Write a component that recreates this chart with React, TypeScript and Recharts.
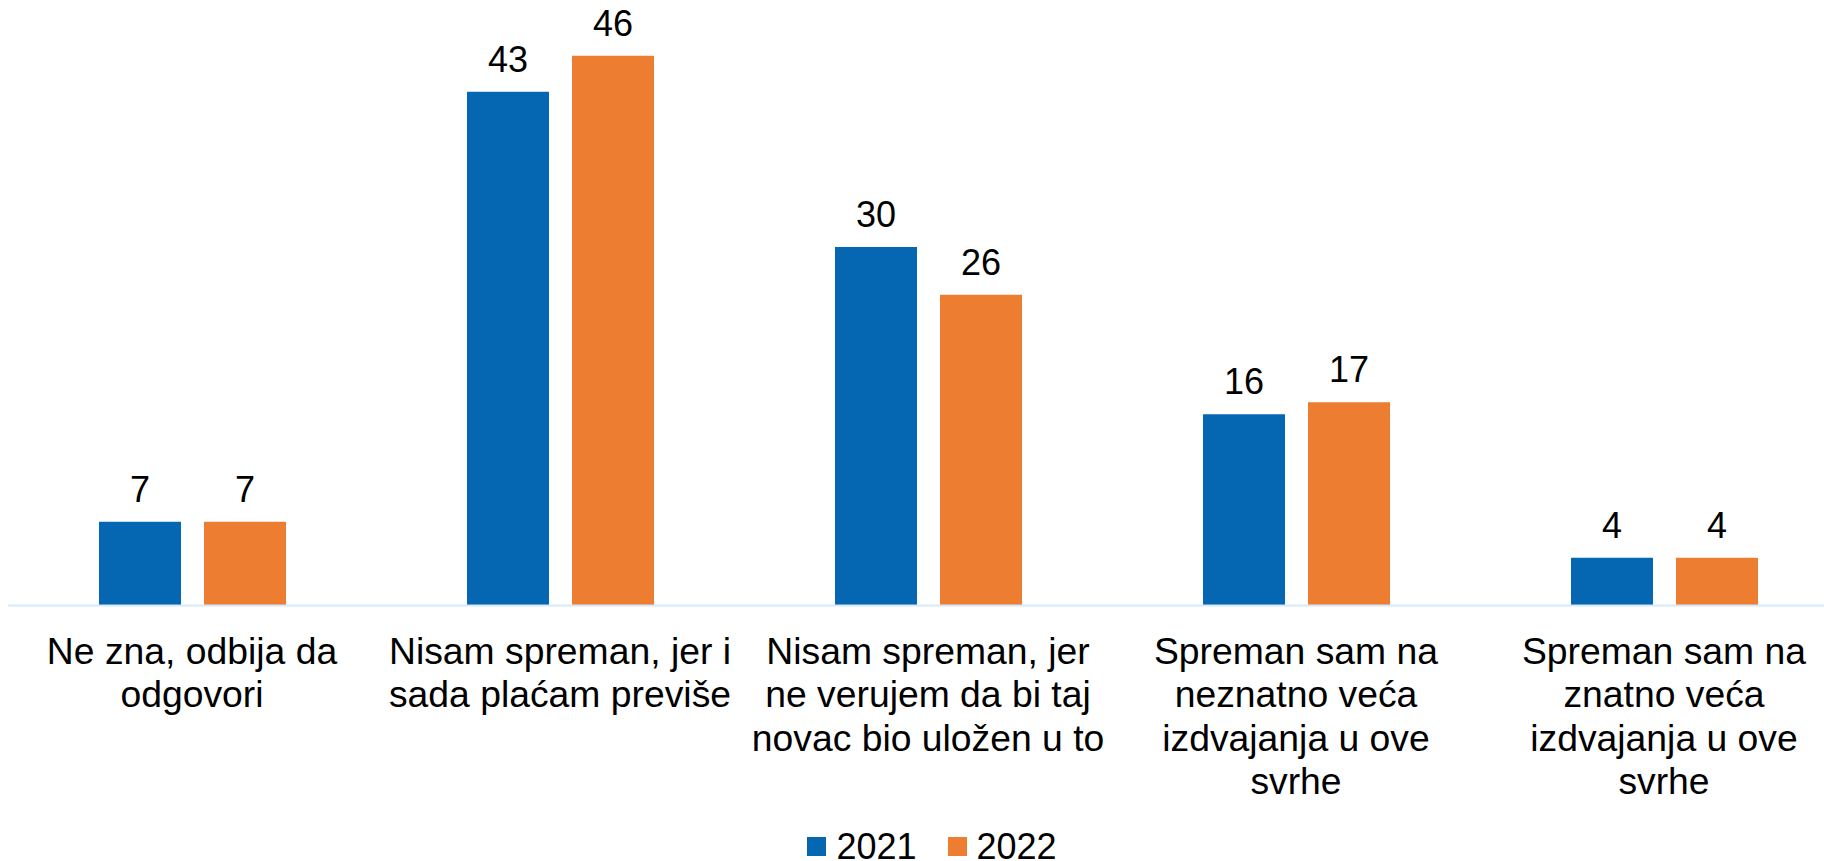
import React from "react";
import { BarChart, Bar, XAxis, YAxis, Legend, LabelList } from "recharts";

const categories = [
  "Ne zna, odbija da odgovori",
  "Nisam spreman, jer i sada plaćam previše",
  "Nisam spreman, jer ne verujem da bi taj novac bio uložen u to",
  "Spreman sam na neznatno veća izdvajanja u ove svrhe",
  "Spreman sam na znatno veća izdvajanja u ove svrhe",
];
const tickLines: string[][] = [
  ["Ne zna, odbija da", "odgovori"],
  ["Nisam spreman, jer i", "sada plaćam previše"],
  ["Nisam spreman, jer", "ne verujem da bi taj", "novac bio uložen u to"],
  ["Spreman sam na", "neznatno veća", "izdvajanja u ove", "svrhe"],
  ["Spreman sam na", "znatno veća", "izdvajanja u ove", "svrhe"],
];
const values2021 = [7, 43, 30, 16, 4];
const values2022 = [7, 46, 26, 17, 4];
const seriesNames = ["2021", "2022"];
const colors = ["#0567B1", "#ED7D31"];

const data = categories.map((c, i) => ({
  name: c,
  idx: i,
  v2021: values2021[i],
  v2022: values2022[i],
}));

const FONT = "Arial, 'Liberation Sans', sans-serif";

const CatTick = (props: any) => {
  const { x, y, payload } = props;
  const lines = tickLines[payload.index] || [String(payload.value)];
  return (
    <text
      x={x}
      y={y}
      textAnchor="middle"
      fontFamily={FONT}
      fontSize={37.3}
      fill="#000"
    >
      {lines.map((l, i) => (
        <tspan key={i} x={x} y={y + 58 + i * 43.5}>
          {l}
        </tspan>
      ))}
    </text>
  );
};

const LegendContent = () => (
  <div
    style={{
      display: "flex",
      justifyContent: "center",
      alignItems: "center",
      height: 29,
      lineHeight: "29px",
      fontFamily: FONT,
      fontSize: 36,
      color: "#000",
      paddingLeft: 8,
    }}
  >
    {seriesNames.map((n, i) => (
      <div
        key={n}
        style={{ display: "flex", alignItems: "center", marginRight: i === 0 ? 31 : 0 }}
      >
        <div style={{ width: 19, height: 19, background: colors[i], marginRight: 10 }} />
        <span>{n}</span>
      </div>
    ))}
  </div>
);

export default function App() {
  return (
    <div
      style={{
        position: "absolute",
        top: 0,
        left: 0,
        width: 1824,
        height: 861,
        overflow: "hidden",
        background: "#fff",
      }}
    >
      <div style={{ position: "absolute", left: 8, top: 8 }}>
        <BarChart
          width={1840}
          height={853}
          data={data}
          margin={{ top: 0, right: 0, bottom: 0, left: 0 }}
          barSize={82}
          barGap={23}
        >
          <XAxis
            dataKey="name"
            interval={0}
            tickLine={false}
            axisLine={{ stroke: "#D6E9FA", strokeWidth: 2 }}
            tick={<CatTick />}
            height={226.5}
            tickMargin={0}
            tickSize={0}
          />
          <YAxis hide domain={[0, 50]} />
          <Legend
            verticalAlign="bottom"
            content={<LegendContent />}
          />
          <Bar dataKey="v2021" name="2021" fill={colors[0]} isAnimationActive={false}>
            <LabelList
              dataKey="v2021"
              position="top"
              offset={20}
              fill="#000"
              fontSize={36}
              fontFamily={FONT}
            />
          </Bar>
          <Bar dataKey="v2022" name="2022" fill={colors[1]} isAnimationActive={false}>
            <LabelList
              dataKey="v2022"
              position="top"
              offset={20}
              fill="#000"
              fontSize={36}
              fontFamily={FONT}
            />
          </Bar>
        </BarChart>
      </div>
    </div>
  );
}
